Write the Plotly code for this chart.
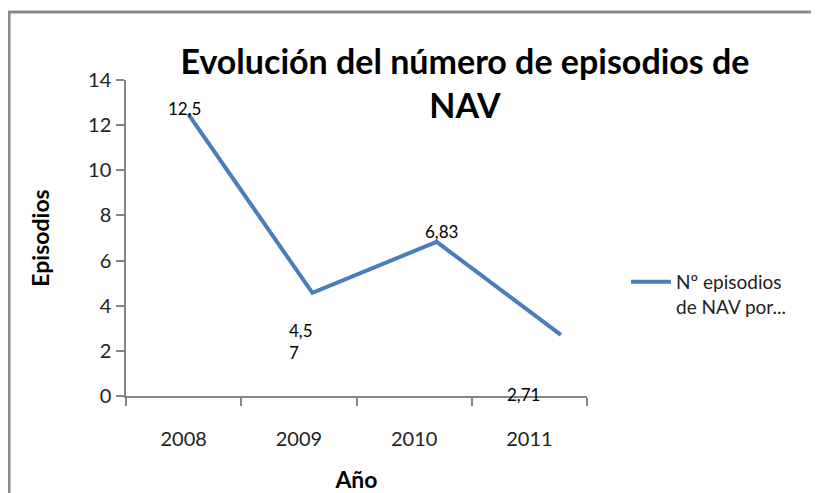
import plotly.graph_objects as go

years = ["2008", "2009", "2010", "2011"]
episodes = [12.5, 4.57, 6.83, 2.71]
value_labels = ["12,5", "4,5<br>7", "6,83", "2,71"]
series_name = "Nº episodios<br>de NAV por..."
y_ticks = [0, 2, 4, 6, 8, 10, 12, 14]

# label offsets (pixels) to mimic the original placement
label_xshift = [-4, -25, 5, -37]
label_yshift = [5, -49, 10, -60]
label_xanchor = ["center", "left", "center", "center"]

FONT = "Lato"
LINE_COLOR = "#4a7ebb"
AXIS_COLOR = "#868686"

OFF = 8  # page body margin
W, H = 819 - OFF, 493 - OFF


def px(v):
    return v - OFF


ml = px(126)
mt = px(80)
plot_bottom = px(396)
mb = H - plot_bottom
plot_right = px(623)
mr = W - plot_right
pw = plot_right - ml
ph = plot_bottom - mt
axis_right = px(587)
cat_range = [-0.5, len(years) - 0.5]

fig = go.Figure()

# data line on its own (hidden) category axis spanning the wider area
fig.add_trace(go.Scatter(
    x=years, y=episodes, xaxis="x", yaxis="y", mode="lines",
    name=series_name, line=dict(color=LINE_COLOR, width=4),
))

# invisible trace anchoring the visible category axis
fig.add_trace(go.Scatter(
    x=years, y=episodes, xaxis="x2", yaxis="y", mode="lines",
    line=dict(width=0, color="rgba(0,0,0,0)"), showlegend=False, hoverinfo="skip",
))

for i, (v, t, xs, ys, xa) in enumerate(zip(episodes, value_labels, label_xshift, label_yshift, label_xanchor)):
    fig.add_annotation(
        x=i, y=v, xref="x", yref="y", text=t, showarrow=False,
        xshift=xs, yshift=ys, xanchor=xa, yanchor="middle", align="left",
        font=dict(family=FONT, size=17, color="#000000"),
    )

fig.update_layout(
    width=W, height=H,
    margin=dict(l=ml, r=mr, t=mt, b=mb, pad=0),
    paper_bgcolor="white", plot_bgcolor="rgba(0,0,0,0)",
    font=dict(family=FONT, color="#000000"),
    title=dict(
        text="<b>Evolución del número de episodios de<br>NAV</b>",
        x=px(465) / W, xanchor="center", xref="container",
        y=1 - 66 / H, yanchor="top", yref="container",
        font=dict(family=FONT, size=34, color="#000000"),
    ),
    xaxis=dict(
        domain=[0, 1], type="category", anchor="y", range=cat_range,
        showline=False, showticklabels=False, ticks="", showgrid=False, zeroline=False,
        fixedrange=True, automargin=False,
    ),
    xaxis2=dict(
        domain=[0, (axis_right - ml) / pw], type="category", anchor="y", range=cat_range,
        showline=True, linecolor=AXIS_COLOR, linewidth=1.5,
        ticks="outside", tickson="boundaries", ticklen=8, tickcolor=AXIS_COLOR, tickwidth=1.5,
        showgrid=False, zeroline=False, ticklabelstandoff=24,
        tickfont=dict(family=FONT, size=20, color="#222222"),
        title=dict(text="<b>Año</b>", font=dict(family=FONT, size=23, color="#000000"), standoff=36),
        fixedrange=True, automargin=False,
    ),
    yaxis=dict(
        range=[0, 14], tickvals=y_ticks, anchor="x2",
        showline=True, linecolor=AXIS_COLOR, linewidth=1.5,
        ticks="outside", ticklen=8, tickcolor=AXIS_COLOR, tickwidth=1.5,
        showgrid=False, zeroline=False, ticklabelstandoff=1,
        tickfont=dict(family=FONT, size=20, color="#222222"),
        title=dict(text="<b>Episodios</b>", font=dict(family=FONT, size=23, color="#000000"), standoff=32),
        fixedrange=True, automargin=False,
    ),
    showlegend=True,
    legend=dict(
        x=(px(626) - ml) / pw, xanchor="left", xref="paper",
        y=(plot_bottom - px(263)) / ph, yanchor="top", yref="paper",
        valign="top", bgcolor="rgba(0,0,0,0)",
        font=dict(family=FONT, size=19, color="#222222"),
        itemwidth=40,
    ),
    shapes=[dict(
        type="rect", xref="paper", yref="paper",
        x0=(px(9) - ml) / pw, x1=(px(840) - ml) / pw,
        y0=-(px(520) - plot_bottom) / ph, y1=(plot_bottom - px(12)) / ph,
        line=dict(color="#8a8a8a", width=3), fillcolor="rgba(0,0,0,0)", layer="below",
    )],
)

fig.write_html("out.html")
